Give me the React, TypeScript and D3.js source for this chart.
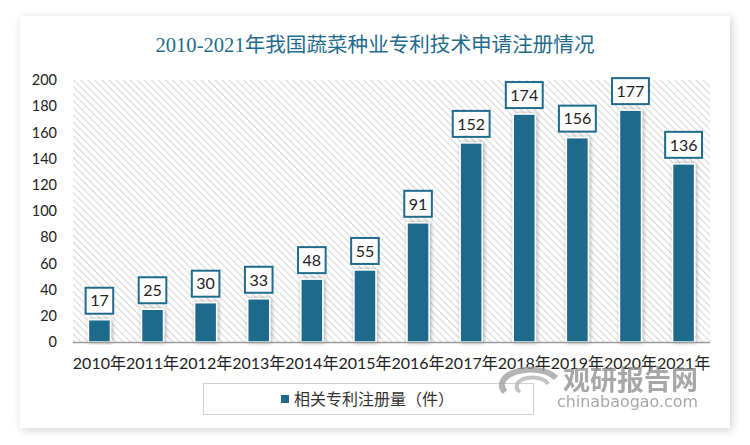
import React from "react";
import * as d3 from "d3";

const categories = ["2010年","2011年","2012年","2013年","2014年","2015年","2016年","2017年","2018年","2019年","2020年","2021年"];
const values = [17, 25, 30, 33, 48, 55, 91, 152, 174, 156, 177, 136];
const yTicks = [0, 20, 40, 60, 80, 100, 120, 140, 160, 180, 200];
const title = "2010-2021年我国蔬菜种业专利技术申请注册情况";
const seriesName = "相关专利注册量（件）";

const W = 750, H = 445;
const BAR = "#1d6b8c";
const numFont = "Lato, 'Noto Sans CJK SC', sans-serif";

export default function App() {
  const x = d3.scaleBand<string>().domain(categories).range([73, 710]).paddingInner(0.585).paddingOuter(0.29);
  const y = d3.scaleLinear().domain([0, 200]).range([342, 80]);
  const bw = x.bandwidth();
  return (
    <svg width={W} height={H} style={{ position: "absolute", left: 0, top: 0 }}>
      <defs>
        <pattern id="hatch" width="5" height="5" patternUnits="userSpaceOnUse" patternTransform="rotate(-45)">
          <rect width="5" height="5" fill="#ffffff" />
          <line x1="0" y1="0" x2="0" y2="5" stroke="#d6d6d6" strokeWidth="2" />
        </pattern>
        <filter id="card" x="-5%" y="-5%" width="110%" height="110%">
          <feDropShadow dx="2" dy="2" stdDeviation="4" floodColor="#000" floodOpacity="0.18" />
        </filter>
        <filter id="barsh" x="-50%" y="-10%" width="200%" height="120%">
          <feDropShadow dx="1" dy="0" stdDeviation="2" floodColor="#000" floodOpacity="0.35" />
        </filter>
      </defs>
      <rect x={0} y={0} width={W} height={H} fill="#ffffff" />
      <rect x={20} y={16} width={710} height={412} fill="#ffffff" filter="url(#card)" />
      <text x={375} y={52} textAnchor="middle" fontSize={20} fill="#1f6b8c"
        style={{ fontFamily: "'Liberation Serif', 'Noto Sans CJK SC', serif" }} textLength={439} lengthAdjust="spacingAndGlyphs">{title}</text>
      <rect x={73} y={y(200)} width={637} height={y(0) - y(200)} fill="url(#hatch)" />
      {yTicks.map((t) => (
        <text key={t} x={57} y={y(t)} dy="0.36em" textAnchor="end" fontSize={14.5} fill="#222" style={{ fontFamily: numFont }}>{t}</text>
      ))}
      {categories.map((c, i) => {
        const v = values[i];
        const bx = x(c)!;
        const by = y(v);
        const label = String(v);
        const lw = label.length * 9.3 + 9;
        const cx = bx + bw / 2;
        return (
          <g key={c}>
            <rect x={bx} y={by} width={bw} height={y(0) - by} fill={BAR} stroke="#ffffff" strokeWidth={1.5} filter="url(#barsh)" />
            <rect x={cx - lw / 2} y={by - 32} width={lw} height={26} fill="#ffffff" stroke="#1f6b8c" strokeWidth={2} />
            <text x={cx} y={by - 19} dy="0.36em" textAnchor="middle" fontSize={16} fill="#222" style={{ fontFamily: numFont }}>{label}</text>
            <text x={cx} y={369} textAnchor="middle" fontSize={16} fill="#222" style={{ fontFamily: numFont }}>{c}</text>
          </g>
        );
      })}
      <line x1={73} x2={710} y1={342.5} y2={342.5} stroke="#9a9a9a" strokeWidth={1.5} />
      <rect x={203.5} y={383.5} width={330} height={31} fill="#ffffff" stroke="#d0d0d0" strokeWidth={1} />
      <rect x={281} y={395} width={8} height={8} fill={BAR} />
      <text x={294} y={399} dy="0.36em" fontSize={16} fill="#333" style={{ fontFamily: "'Noto Sans CJK SC', sans-serif" }}>{seriesName}</text>
      <g opacity={0.75}>
        <path d="M 505 392 A 26 14 0 1 1 556 378" fill="none" stroke="#9a9a9a" strokeWidth={6} />
        <path d="M 520 392 A 16 9 0 1 1 548 384" fill="none" stroke="#b0b0b0" strokeWidth={4} />
        <text x={563} y={390} fontSize={27} fontWeight="bold" fill="#8a8a8a" textLength={135} lengthAdjust="spacingAndGlyphs"
          style={{ fontFamily: "'Noto Sans CJK SC', sans-serif" }}>观研报告网</text>
        <text x={557} y={407} fontSize={16} fill="#8a8a8a" textLength={141} lengthAdjust="spacingAndGlyphs"
          style={{ fontFamily: "'DejaVu Sans', sans-serif" }}>chinabaogao.com</text>
      </g>
    </svg>
  );
}
